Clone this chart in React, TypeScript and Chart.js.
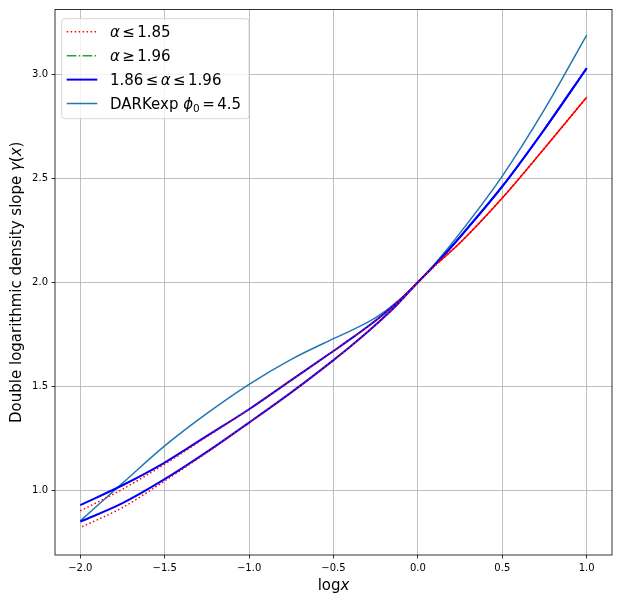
import React, { useEffect, useRef } from 'react';
import { Chart, registerables } from 'chart.js';
Chart.register(...registerables);

// log x sample positions
const xs = [-2, -1.75, -1.5, -1.25, -1, -0.75, -0.5, -0.375, -0.25, -0.125, 0, 0.125, 0.25, 0.5, 0.75, 1];
// DARKexp phi0 = 4.5
const darkexp = [0.854, 1.035, 1.214, 1.37, 1.51, 1.63, 1.729, 1.776, 1.83, 1.905, 2.0, 2.112, 2.237, 2.51, 2.83, 3.187];
// 1.86 <= alpha <= 1.96 (two bounding curves)
const blueUpper = [0.93, 1.025, 1.134, 1.262, 1.39, 1.53, 1.67, 1.741, 1.816, 1.901, 2.0, 2.104, 2.218, 2.46, 2.735, 3.028];
const blueLower = [0.85, 0.939, 1.054, 1.185, 1.326, 1.471, 1.626, 1.708, 1.796, 1.891, 2.0, 2.104, 2.218, 2.46, 2.735, 3.028];
// alpha <= 1.85 (two bounding curves)
const redUpper = [0.902, 1.006, 1.126, 1.258, 1.39, 1.53, 1.67, 1.741, 1.816, 1.901, 2.0, 2.097, 2.19, 2.405, 2.644, 2.889];
const redLower = [0.822, 0.918, 1.046, 1.182, 1.326, 1.471, 1.626, 1.708, 1.796, 1.891, 2.0, 2.097, 2.19, 2.405, 2.644, 2.889];
// alpha <= 1.85 family where its many dotted curves overlap (x > 0)
const redBundleXs = [0.125, 0.25, 0.5, 0.75, 1];
const redBundleYs = [2.097, 2.19, 2.405, 2.644, 2.889];
// alpha >= 1.96 (hidden below the others)
const greenXs: number[] = [];
const greenYs: number[] = [];

const xTicks = [-2.0, -1.5, -1.0, -0.5, 0.0, 0.5, 1.0];
const yTicks = [1.0, 1.5, 2.0, 2.5, 3.0];

const FONT = '"DejaVu Sans", "Liberation Sans", sans-serif';

type Part = { t?: string; it?: boolean; sub?: boolean; gap?: number };

function drawRich(ctx: CanvasRenderingContext2D, parts: Part[], x: number, y: number, size: number, draw = true) {
  let cx = x;
  for (const p of parts) {
    if (p.gap) { cx += p.gap; continue; }
    const fs = p.sub ? size * 0.7 : size;
    ctx.font = `${p.it ? 'italic ' : ''}${fs}px ${FONT}`;
    const dy = p.sub ? size * 0.22 : 0;
    if (draw) ctx.fillText(p.t || '', cx, y + dy);
    cx += ctx.measureText(p.t || '').width;
  }
  return cx - x;
}

const fmt = (v: any) => {
  const n = Number(v);
  return (n < 0 ? '\u2212' : '') + Math.abs(n).toFixed(1);
};

const framePlugin = {
  id: 'frame',
  afterDatasetsDraw(chart: any) {
    const { ctx, chartArea: a } = chart;
    ctx.save();
    ctx.strokeStyle = '#000';
    ctx.lineWidth = 0.8;
    ctx.strokeRect(a.left, a.top, a.right - a.left, a.bottom - a.top);
    ctx.restore();
  },
};

const textPlugin = {
  id: 'texts',
  afterDraw(chart: any) {
    const { ctx, chartArea: a } = chart;
    ctx.save();
    ctx.fillStyle = '#000';
    ctx.textBaseline = 'alphabetic';
    ctx.textAlign = 'left';
    // x label
    const xl: Part[] = [{ t: 'log' }, { t: 'x', it: true }];
    const xw = drawRich(ctx, xl, 0, 0, 15, false);
    drawRich(ctx, xl, (a.left + a.right) / 2 - xw / 2, 590, 15);
    // y label
    const yl: Part[] = [
      { t: 'Double logarithmic density slope ' },
      { t: '\u03b3', it: true },
      { t: '(' },
      { t: 'x', it: true },
      { t: ')' },
    ];
    const yw = drawRich(ctx, yl, 0, 0, 15, false);
    ctx.save();
    ctx.translate(21, (a.top + a.bottom) / 2);
    ctx.rotate(-Math.PI / 2);
    drawRich(ctx, yl, -yw / 2, 0, 15);
    ctx.restore();

    // legend
    const bx = 61.7, by = 18.7, bw = 187.3, bh = 100;
    ctx.beginPath();
    (ctx as any).roundRect(bx, by, bw, bh, 3);
    ctx.fillStyle = 'rgba(255,255,255,0.8)';
    ctx.fill();
    ctx.strokeStyle = '#cccccc';
    ctx.lineWidth = 0.8;
    ctx.stroke();

    const g = 2.4;
    const entries: { color: string; dash: number[]; lw: number; parts: Part[] }[] = [
      { color: '#ff0000', dash: [1.5, 2.475], lw: 1.5, parts: [{ t: '\u03b1', it: true }, { gap: g }, { t: '\u2264' }, { gap: g }, { t: '1.85' }] },
      { color: '#2ca02c', dash: [9.6, 2.4, 1.5, 2.4], lw: 1.5, parts: [{ t: '\u03b1', it: true }, { gap: g }, { t: '\u2265' }, { gap: g }, { t: '1.96' }] },
      { color: '#0000ff', dash: [], lw: 2, parts: [{ t: '1.86' }, { gap: g }, { t: '\u2264' }, { gap: g }, { t: '\u03b1', it: true }, { gap: g }, { t: '\u2264' }, { gap: g }, { t: '1.96' }] },
      { color: '#1f77b4', dash: [], lw: 1.5, parts: [{ t: 'DARKexp ' }, { t: '\u03d5', it: true }, { t: '0', sub: true }, { gap: g }, { t: '=' }, { gap: g }, { t: '4.5' }] },
    ];
    entries.forEach((e, i) => {
      const cy = 31.8 + i * 23.9;
      ctx.save();
      ctx.beginPath();
      ctx.strokeStyle = e.color;
      ctx.lineWidth = e.lw;
      ctx.setLineDash(e.dash);
      ctx.moveTo(66.7, cy);
      ctx.lineTo(97.3, cy);
      ctx.stroke();
      ctx.restore();
      ctx.fillStyle = '#000';
      drawRich(ctx, e.parts, 110, cy + 5.5, 15);
    });
    ctx.restore();
  },
};

export default function App() {
  const ref = useRef<HTMLCanvasElement>(null);
  useEffect(() => {
    const mk = (xv: number[], ys: number[]) => xv.map((x, i) => ({ x, y: ys[i] }));
    const base = { pointRadius: 0, fill: false, cubicInterpolationMode: 'monotone' as const, borderCapStyle: 'butt' as const };
    const chart = new Chart(ref.current as HTMLCanvasElement, {
      type: 'line',
      data: {
        datasets: [
          { ...base, label: 'a<=1.85 upper', data: mk(xs, redUpper), borderColor: '#ff0000', borderWidth: 1.5, borderDash: [1.5, 2.475], order: 0 },
          { ...base, label: 'a<=1.85 lower', data: mk(xs, redLower), borderColor: '#ff0000', borderWidth: 1.5, borderDash: [1.5, 2.475], borderDashOffset: 2, order: 0 },
          { ...base, label: 'a<=1.85 bundle', data: mk(redBundleXs, redBundleYs), borderColor: '#ff0000', borderWidth: 1.5, order: 0 },
          { ...base, label: '1.86<=a<=1.96 upper', data: mk(xs, blueUpper), borderColor: '#0000ff', borderWidth: 2, order: 1 },
          { ...base, label: '1.86<=a<=1.96 lower', data: mk(xs, blueLower), borderColor: '#0000ff', borderWidth: 2, order: 1 },
          { ...base, label: 'a>=1.96', data: mk(greenXs, greenYs), borderColor: '#2ca02c', borderWidth: 1.5, borderDash: [9.6, 2.4, 1.5, 2.4], order: 2 },
          { ...base, label: 'DARKexp', data: mk(xs, darkexp), borderColor: '#1f77b4', borderWidth: 1.5, order: 3 },
        ],
      },
      options: {
        responsive: false,
        animation: false,
        layout: { padding: { top: 8, right: 9, left: 0, bottom: 0 } },
        plugins: { legend: { display: false }, tooltip: { enabled: false } },
        scales: {
          x: {
            type: 'linear',
            min: -2.15,
            max: 1.15,
            afterFit(s: any) { s.height = 46; },
            afterBuildTicks(s: any) { s.ticks = xTicks.map((v) => ({ value: v })); },
            ticks: { callback: fmt, color: '#000', font: { family: FONT, size: 10 }, padding: 3.5, maxRotation: 0, autoSkip: false },
            grid: { color: '#b0b0b0', lineWidth: 0.8, tickColor: '#000', tickLength: 3.5, tickWidth: 0.8 },
            border: { display: false },
          },
          y: {
            type: 'linear',
            min: 0.69,
            max: 3.31,
            afterFit(s: any) { s.width = 55; },
            afterBuildTicks(s: any) { s.ticks = yTicks.map((v) => ({ value: v })); },
            ticks: { callback: fmt, color: '#000', font: { family: FONT, size: 10 }, padding: 3.5, autoSkip: false },
            grid: { color: '#b0b0b0', lineWidth: 0.8, tickColor: '#000', tickLength: 3.5, tickWidth: 0.8 },
            border: { display: false },
          },
        },
      } as any,
      plugins: [framePlugin, textPlugin],
    });
    return () => chart.destroy();
  }, []);
  return (
    <div style={{ position: 'absolute', left: 0, top: 0, width: 621, height: 601, background: '#fff' }}>
      <canvas ref={ref} width={621} height={601} style={{ display: 'block' }} />
    </div>
  );
}
